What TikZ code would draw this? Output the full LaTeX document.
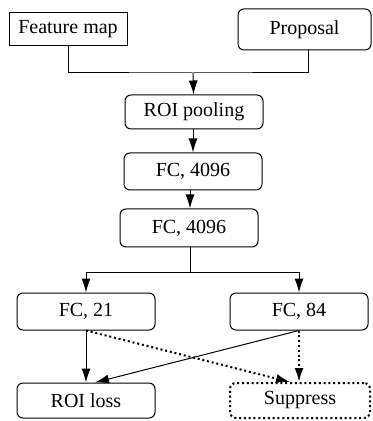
\documentclass[tikz,border=0pt]{standalone}
\usepackage{fontspec}
\setmainfont{Liberation Serif}
\usepackage{tikz}
\usetikzlibrary{calc, arrows.meta}

\begin{document}
\begin{tikzpicture}
    [x=0.5pt, y=-0.5pt,
     Block/.style={draw, line width=0.5pt, rounded corners=3pt, inner sep=0pt,
                   minimum width=69pt, minimum height=18.5pt,
                   font=\fontsize{10}{12}\selectfont},
     Flow/.style={->, line width=0.5pt},
     Maybe/.style={->, line width=1pt, dash pattern=on 1pt off 1.4pt},
    >={Latex[length=7pt, width=4.5pt]}
    ]
\useasboundingbox (0,0) rectangle (372,421);

%inputs
\node[Block, rounded corners=0pt, minimum width=59pt, minimum height=16.5pt] (feat) at (68,29.5) {Feature map};
\node[Block, minimum width=66.5pt, minimum height=20.5pt] (prop) at (304.5,29.5) {Proposal};

%shared layers
\node[Block, minimum height=17pt] (pool) at (194,112) {ROI pooling};
\node[Block] (fcA) at (193,171.5) {FC, 4096};
\node[Block, minimum height=19pt] (fcB) at (189,228) {FC, 4096};

%two heads
\node[Block] (cls) at (86,311.5) {FC, 21};
\node[Block] (reg) at (299,311.5) {FC, 84};

%outputs
\node[Block, minimum height=17.5pt] (loss) at (86,400.5) {ROI loss};
\node[Block, minimum width=70pt, minimum height=17.5pt, line width=1pt,
      dash pattern=on 1pt off 1.4pt] (supp) at (300,400.5) {Suppress};

\coordinate (merge) at (193,73);
\coordinate (split) at (190,272);

\draw[line width=0.5pt] (feat) |- (merge) -| (prop.south -| 308,0);
\draw[Flow] (merge) -- (pool);
\draw[Flow] (pool.south -| fcA) -- (fcA);
\draw[Flow] (fcA.south -| split) -- (fcB.north -| split);
\draw[line width=0.5pt] (fcB.south -| split) -- (split);
\draw[Flow] (split) -| (cls);
\draw[Flow] (split) -| (reg);

\draw[Flow] (cls) -- (loss);
\draw[Flow] (reg.south) -- ($(loss.north)+(9,0)$);
\draw[Maybe] (cls.south) -- ($(supp.north)+(-10,0)$);
\draw[Maybe] (reg.south) -- (supp.north -| reg);

\end{tikzpicture}
\end{document}
